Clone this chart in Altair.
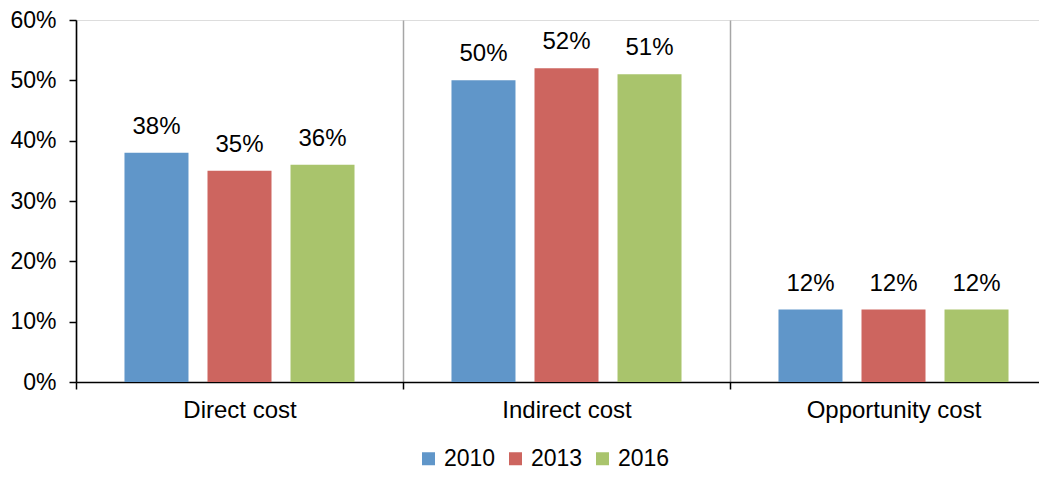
import altair as alt
import pandas as pd

categories = ["Direct cost", "Indirect cost", "Opportunity cost"]
years = ["2010", "2013", "2016"]
v2010 = [0.38, 0.50, 0.12]
v2013 = [0.35, 0.52, 0.12]
v2016 = [0.36, 0.51, 0.12]
colors = ["#6096C9", "#CD655F", "#A9C46C"]
y_ticks = [0.0, 0.1, 0.2, 0.3, 0.4, 0.5, 0.6]

rows = []
for yr, vals in zip(years, [v2010, v2013, v2016]):
    for c, v in zip(categories, vals):
        rows.append({"category": c, "year": yr, "value": v})
df = pd.DataFrame(rows)

FONT = "Liberation Sans"
FS = 24

x = alt.X(
    "category:N", sort=categories, title=None,
    scale=alt.Scale(range=[0, 981], paddingInner=0, paddingOuter=0),
    axis=alt.Axis(
        labelAngle=0, labelFontSize=FS, labelColor="black", labelFont=FONT,
        domainColor="black", domainWidth=1.5, tickColor="black", tickSize=7,
        tickWidth=1.5, tickBand="extent", grid=True, gridColor="#A6A6A6",
        gridWidth=1.5, labelPadding=9,
    ),
)
xo = alt.XOffset("year:N", sort=years,
                 scale=alt.Scale(paddingInner=0.229, paddingOuter=0.584))
y = alt.Y(
    "value:Q", title=None, scale=alt.Scale(domain=[0, 0.6], nice=False),
    axis=alt.Axis(
        format=".0%", values=y_ticks, grid=False, labelFontSize=23,
        labelColor="black", labelFont=FONT, labelPadding=13, tickSize=7,
        tickWidth=1.5, tickColor="black", domainColor="black", domainWidth=1.5,
    ),
)
color = alt.Color(
    "year:N", sort=years,
    scale=alt.Scale(domain=years, range=colors),
    legend=alt.Legend(
        orient="none", legendX=341, legendY=427, direction="horizontal",
        title=None, symbolType="square", symbolSize=169, labelFontSize=23,
        labelFont=FONT, labelColor="black", columnPadding=8, labelOffset=4,
        symbolStrokeWidth=0, symbolOpacity=1,
    ),
)

bars = alt.Chart(df).mark_bar().encode(x=x, xOffset=xo, y=y, color=color)
labels = alt.Chart(df).mark_text(
    baseline="alphabetic", dy=-19, fontSize=FS, font=FONT, color="black"
).encode(x=x, xOffset=xo, y=y, text=alt.Text("value:Q", format=".0%"))

chart = (
    alt.layer(bars, labels)
    .properties(
        width=963, height=362,
        autosize=alt.AutoSizeParams(type="none"),
        padding={"left": 68, "top": 12, "right": 0, "bottom": 89},
    )
    .configure_view(stroke=None)
    .configure(font=FONT)
)

chart.save("out.html", embed_options={"renderer": "svg", "actions": False})
